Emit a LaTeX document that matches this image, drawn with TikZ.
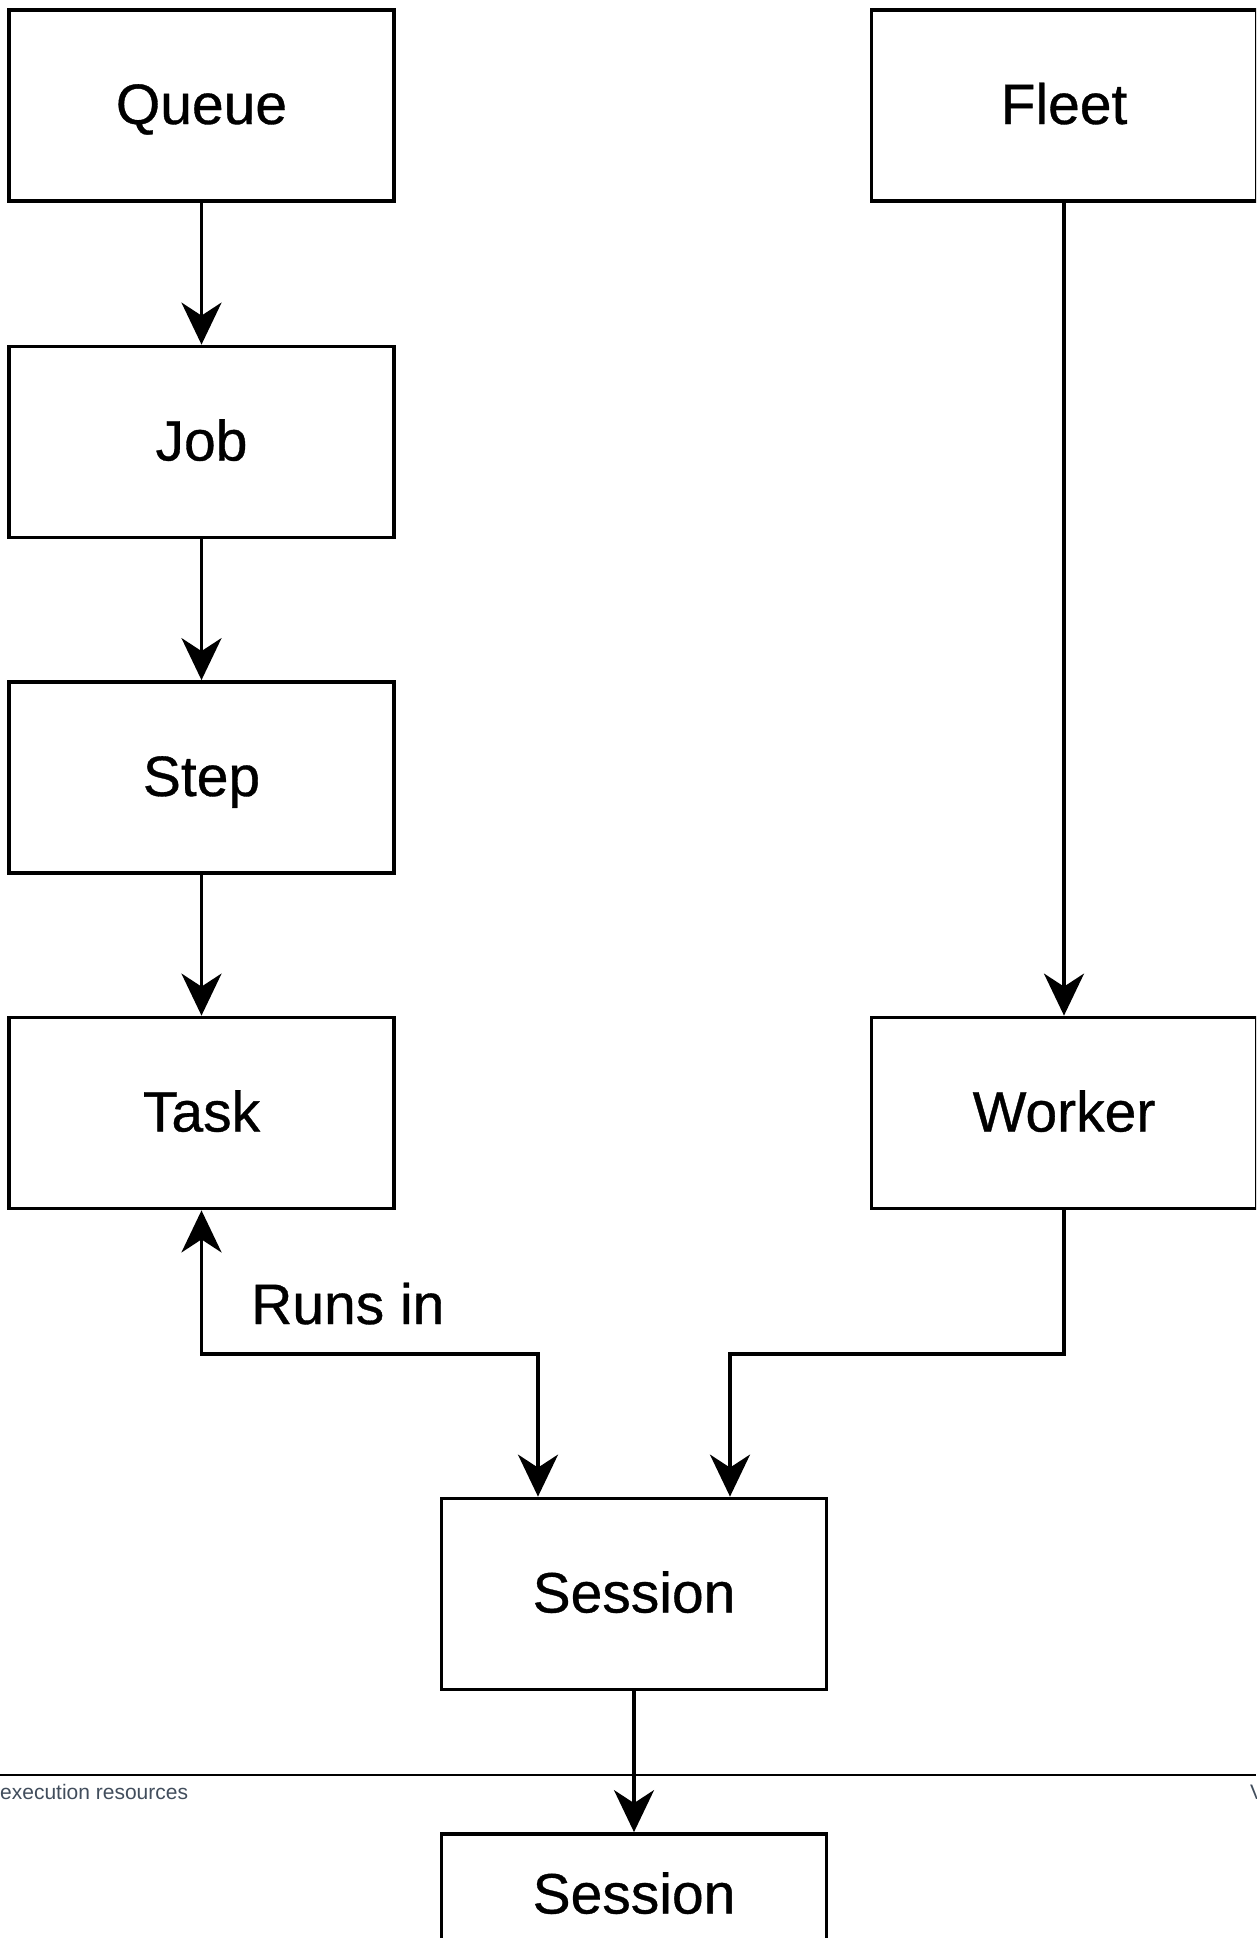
\documentclass[tikz,border=0pt]{standalone}
\usepackage{fontspec}
\setmainfont{Liberation Sans}
\newfontfamily\boxfont[FakeBold=0.6]{Liberation Sans}
\usetikzlibrary{arrows.meta}
\definecolor{footgray}{RGB}{65,77,92}
\begin{document}
\begin{tikzpicture}[x=1pt,y=-1pt,
  box/.style={draw, line width=3.8pt, minimum width=385pt, minimum height=191pt,
    inner sep=0pt, text height=41pt, text depth=4pt, font=\boxfont\fontsize{57}{60}\selectfont},
  tip/.tip={Stealth[length=42pt,width=40pt,inset=13pt]},
  conn/.style={line width=3.3pt, -tip},
  lab/.style={inner sep=0pt, font=\boxfont\fontsize{57}{60}\selectfont},
  foot/.style={inner sep=0pt, text=footgray, font=\fontsize{21}{24}\selectfont}]
\useasboundingbox (0,0) rectangle (1256,1938);
\clip (0,0) rectangle (1256,1938);

% left column
\node[box] (queue) at (201.5,105.5) {Queue};
\node[box] (job)   at (201.5,442)   {Job};
\node[box] (stepn) at (201.5,777.5) {Step};
\node[box] (task)  at (201.5,1113)  {Task};
% right column
\node[box] (fleet)  at (1064,105.5) {Fleet};
\node[box] (worker) at (1064,1113)  {Worker};
% sessions
\node[box] (session1) at (634,1594) {Session};
\node[box, minimum height=122pt] (session2) at (634,1895) {Session};

\coordinate (bend) at (0,1354);

\draw[conn] (queue) -- (job);
\draw[conn] (job) -- (stepn);
\draw[conn] (stepn) -- (task);
\draw[conn] (fleet) -- (worker);
\draw[conn] (worker.south) -- (worker.south |- bend) -| ([xshift=96pt]session1.north);
\draw[conn, tip-tip] ([xshift=-96pt]session1.north) -- ([xshift=-96pt]session1.north |- bend) -| (task.south);

\node[lab, anchor=base west] (runs) at (251,1324) {Runs in};

% page footer
\coordinate (fl) at (0,1775);
\coordinate (fr) at (1256,1775);
\draw[line width=2.2pt] (fl) -- (fr);
\node[foot, anchor=base west] (footl) at (0,1799) {execution resources};
\node[foot, anchor=base west] (footr) at (1250,1799) {V};

\draw[conn] (session1) -- (session2);
\end{tikzpicture}
\end{document}
